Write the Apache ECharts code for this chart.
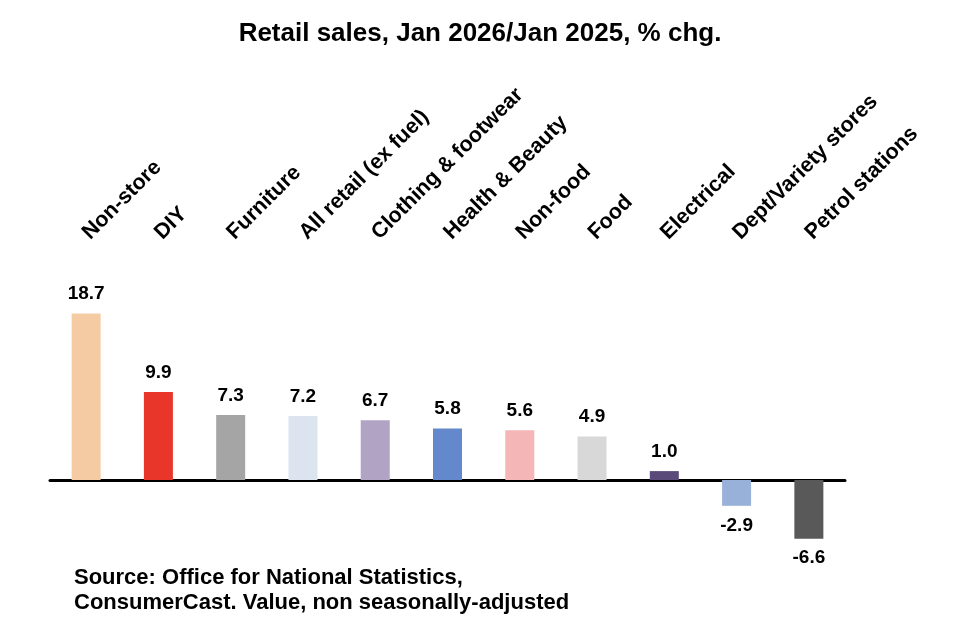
<!DOCTYPE html>
<html lang="en">
<head>
    <meta charset="UTF-8">
    <title>Retail sales</title>
    <script src="https://cdn.jsdelivr.net/npm/echarts@6/dist/echarts.min.js"></script>
    <style>
        body { margin: 0; background: #fff; }
    </style>
</head>
<body>
    <div id="main" style="width: 960px;height:644px;"></div>
</body>
<script>
    var categories = ['Non-store', 'DIY', 'Furniture', 'All retail (ex fuel)', 'Clothing & footwear',
        'Health & Beauty', 'Non-food', 'Food', 'Electrical', 'Dept/Variety stores', 'Petrol stations'];
    var values = [18.7, 9.9, 7.3, 7.2, 6.7, 5.8, 5.6, 4.9, 1.0, -2.9, -6.6];
    var barColors = ['#F4CBA3', '#E8372A', '#A5A5A5', '#DCE4F0', '#B0A3C4', '#6389CC',
        '#F4B6B6', '#D8D8D8', '#5A4A7A', '#98B1D8', '#595959'];

    var myChart = echarts.init(document.getElementById('main'));

    var option = {
        backgroundColor: '#fff',
        animation: false,
        title: {
            text: 'Retail sales, Jan 2026/Jan 2025, % chg.',
            left: 'center',
            top: 16,
            textStyle: {
                fontFamily: 'Liberation Sans',
                fontWeight: 'bold',
                fontSize: 26,
                color: '#000'
            }
        },
        graphic: [{
            type: 'text',
            left: 74,
            top: 565,
            style: {
                text: 'Source: Office for National Statistics,\nConsumerCast. Value, non seasonally-adjusted',
                fontFamily: 'Liberation Sans',
                fontWeight: 'bold',
                fontSize: 22,
                lineHeight: 25,
                fill: '#000'
            }
        }],
        grid: {
            left: 50,
            right: 115,
            top: 302,
            bottom: 75
        },
        xAxis: [{
            type: 'category',
            data: categories,
            position: 'bottom',
            axisLine: { onZero: true, lineStyle: { color: '#000', width: 3 } },
            axisTick: { show: false },
            axisLabel: { show: false }
        }, {
            type: 'category',
            data: categories,
            position: 'top',
            axisLine: { show: false },
            axisTick: { show: false },
            axisLabel: {
                rotate: -45,
                margin: 66,
                interval: 0,
                fontFamily: 'Liberation Sans',
                fontWeight: 'bold',
                fontSize: 21.5,
                color: '#000'
            }
        }],
        yAxis: {
            type: 'value',
            min: -10,
            max: 20,
            show: false,
            splitLine: { show: false }
        },
        series: [{
            type: 'bar',
            barWidth: 29,
            data: values.map(function (v, i) {
                return {
                    value: v,
                    itemStyle: { color: barColors[i] },
                    label: { position: v < 0 ? 'bottom' : 'top' }
                };
            }),
            label: {
                show: true,
                distance: 10,
                fontFamily: 'Liberation Sans',
                fontWeight: 'bold',
                fontSize: 19,
                color: '#000',
                formatter: function (p) { return p.value.toFixed(1); }
            }
        }]
    };

    myChart.setOption(option);
</script>
</html>
